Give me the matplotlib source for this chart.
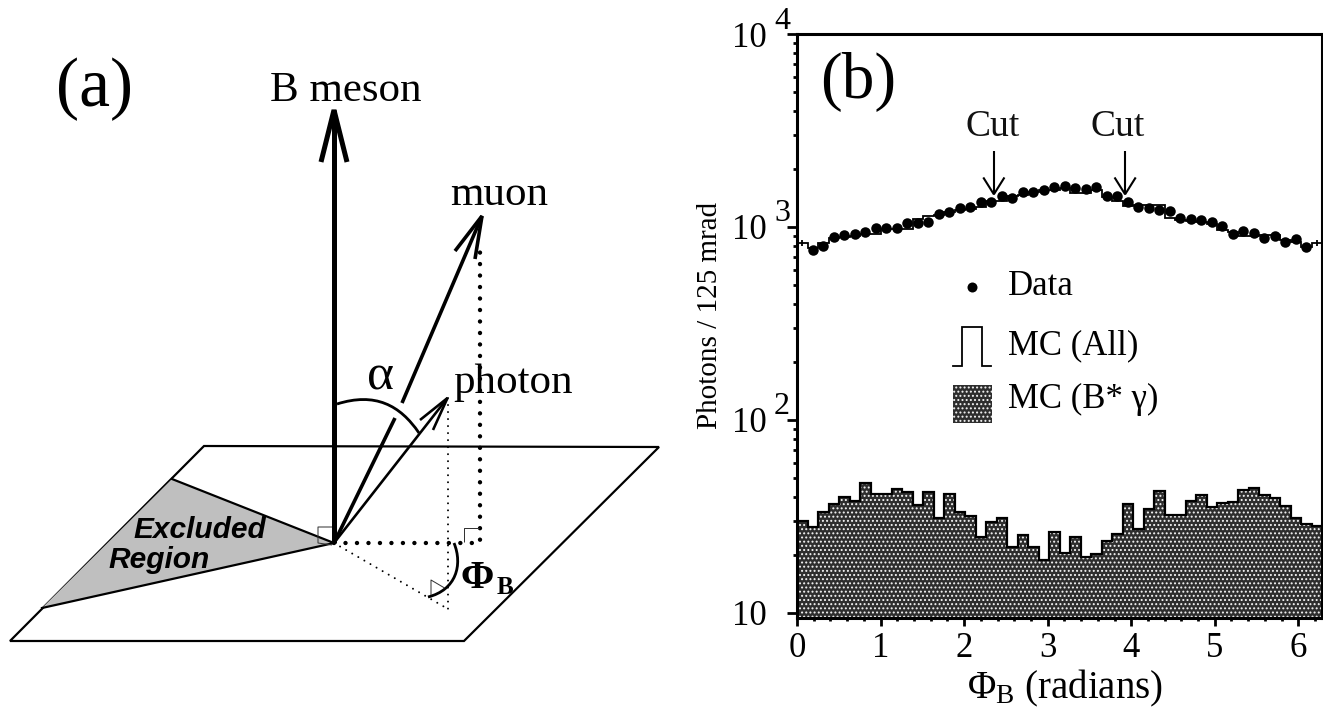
import numpy as np
import matplotlib
matplotlib.use("Agg")
import matplotlib.pyplot as plt
from matplotlib.path import Path
from matplotlib.patches import PathPatch, Polygon, Rectangle

plt.rcParams['font.family'] = ['Liberation Serif', 'DejaVu Sans']
plt.rcParams['mathtext.fontset'] = 'custom'
plt.rcParams['mathtext.rm'] = 'Liberation Serif'
plt.rcParams['mathtext.bf'] = 'Liberation Serif:bold'
plt.rcParams['hatch.linewidth'] = 0.9

# ---------- chart data (panel b) ----------
mc_signal = [30.0, 27.9, 33.2, 36.7, 39.9, 38.1, 46.8, 41.2, 41.4, 43.9,
             42.2, 36.4, 42.4, 30.9, 41.4, 33.2, 31.6, 24.6, 29.7, 31.1,
             22.0, 25.2, 21.9, 18.8, 26.1, 20.5, 24.7, 19.5, 20.2, 23.6,
             25.6, 36.7, 27.1, 34.6, 42.7, 32.1, 32.3, 37.8, 40.9, 35.3,
             36.9, 37.5, 43.4, 44.5, 40.7, 39.4, 35.9, 31.1, 29.0, 28.2]
mc_all = [827, 773, 827, 874, 885, 902, 917, 924, 977, 977,
          977, 1105, 1136, 1150, 1196, 1221, 1245, 1270, 1359, 1359,
          1443, 1471, 1525, 1550, 1562, 1600, 1501, 1501, 1550, 1431,
          1359, 1290, 1306, 1306, 1306, 1118, 1092, 1075, 1066, 1033,
          969, 943, 898, 898, 906, 906, 860, 836, 788, 827]
data_counts = [760, 794, 885, 909, 924, 939, 985, 989, 989, 1045,
               1049, 1066, 1173, 1192, 1250, 1270, 1354, 1354, 1443, 1420,
               1513, 1513, 1562, 1612, 1632, 1587, 1568, 1612, 1443, 1443,
               1354, 1270, 1255, 1230, 1211, 1118, 1100, 1083, 1066, 1016,
               924, 954, 928, 881, 895, 836, 867, 788]
cut_positions = [2.356, 3.927]
x_ticks = [0, 1, 2, 3, 4, 5, 6]
y_decades = [10, 100, 1000, 10000]
y_exponents = {100: '2', 1000: '3', 10000: '4'}
legend_labels = ['Data', 'MC (All)', 'MC (B* \u03b3)']

W, H = 1323, 715
fig = plt.figure(figsize=(W / 100, H / 100), dpi=100)
px = 0.72  # points per pixel

# ---------- panel (b) ----------
L, R, T, B = 797, 1322, 34, 617.5
ax = fig.add_axes([L / W, (H - B) / H, (R - L) / W, (B - T) / H])
ax.set_yscale('log')
xmax = 2 * np.pi
ymin = 9.45
ax.set_xlim(0, xmax)
ax.set_ylim(ymin, 1e4)
edges = np.linspace(0, xmax, len(mc_signal) + 1)
centers = 0.5 * (edges[:-1] + edges[1:])

hatch = '....'
face = '#2e2e2e'
ax.stairs(mc_signal, edges, baseline=ymin, fill=True, facecolor=face,
          edgecolor='#f4f4f4', hatch=hatch, lw=0, zorder=1)
ax.stairs(mc_signal, edges, baseline=None, color='black', lw=2.2 * px, zorder=2)
ax.stairs(mc_all, edges, baseline=None, color='black', lw=1.8 * px, zorder=3)
ax.errorbar([centers[0], centers[-1]], [mc_all[0], mc_all[-1]],
            yerr=[[mc_all[0] * 0.035, mc_all[-1] * 0.035]] * 2, fmt='none',
            ecolor='black', elinewidth=1.3, capsize=0, zorder=3)
ax.plot(centers[1:-1], data_counts, 'o', color='black', ms=10.5 * px, mew=0, zorder=4)

# cut arrows
cut_top, cut_tip, cut_barb, barb_dx = 2466, 1476, 1786, 0.12
for c in cut_positions:
    ax.plot([c, c], [cut_top, cut_tip], color='black', lw=1.5, solid_capstyle='butt', zorder=5)
    ax.plot([c - barb_dx, c, c + barb_dx], [cut_barb, cut_tip, cut_barb], color='black',
            lw=1.5, solid_joinstyle='bevel', zorder=5)

ax.set_xticks(x_ticks)
ax.set_xticks(np.arange(0, 6.3, 0.2), minor=True)
ax.set_yticks(y_decades)
ax.set_yticklabels(['10'] * len(y_decades))
ax.set_yticks([m * d for d in y_decades[:-1] for m in range(2, 10)], minor=True)
ax.tick_params(axis='y', which='minor', labelleft=False)
ax.tick_params(axis='y', which='major', length=10 * px, width=2.0, pad=22 * px - 1, labelsize=25)
ax.tick_params(axis='y', which='minor', length=3.7 * px, width=2.0)
ax.tick_params(axis='x', which='major', length=8 * px, width=2.0, pad=5, labelsize=25)
ax.tick_params(axis='x', which='minor', length=3 * px, width=2.0)
for s in ax.spines.values():
    s.set_linewidth(2.2)
for v, e in y_exponents.items():
    ax.annotate(e, xy=(0, v), xycoords=('axes fraction', 'data'),
                xytext=(-15 * px, 13 * px), textcoords='offset points',
                ha='center', va='center', fontsize=23)
ax.set_ylabel('Photons / 125 mrad', fontsize=21, va='center')
ax.yaxis.set_label_coords((710 - L) / (R - L), (B - 315) / (B - T))
ax.set_xlabel(r'$\mathrm{\Phi_{B}}$ (radians)', fontsize=28, va='center')
ax.xaxis.set_label_coords((1065 - L) / (R - L), -(688 - B) / (B - T))

# ---------- overlay in pixel coordinates: diagram, labels, key ----------
ov = fig.add_axes([0, 0, 1, 1], zorder=10)
ov.set_xlim(0, W)
ov.set_ylim(H, 0)
ov.axis('off')
ov.patch.set_alpha(0)

plane = [(10, 641), (464, 641), (659, 447), (204, 446)]
wedge = [(334, 543), (172, 479), (42, 608)]
apex = (334, 543)
muon_tip, photon_tip, bmeson_tip = (482, 216), (447.5, 398), (334, 110)

ov.add_patch(Polygon(plane, closed=True, fc='none', ec='black', lw=2.2 * px, joinstyle='miter'))
ov.add_patch(Polygon(wedge, closed=True, fc='#bfbfbf', ec='none'))
ov.plot([wedge[1][0], apex[0], wedge[2][0]], [wedge[1][1], apex[1], wedge[2][1]],
        color='black', lw=2.2 * px)


def line(points, width, **kw):
    xs, ys = zip(*points)
    kw.setdefault('solid_capstyle', 'butt')
    ov.plot(xs, ys, color=kw.pop('color', 'black'), lw=width * px, **kw)


def bezier(points, width):
    ov.add_patch(PathPatch(Path(points, [Path.MOVETO, Path.CURVE4, Path.CURVE4, Path.CURVE4]),
                           fc='none', ec='black', lw=width * px))


# main arrows
line([apex, bmeson_tip], 5)
line([(321, 162), bmeson_tip, (347, 162)], 5, solid_joinstyle='bevel')
line([apex, (395, 418)], 3.6)
line([(402, 403), muon_tip], 3.6)
line([(455, 251), muon_tip, (475, 259)], 3.6, solid_joinstyle='bevel')
line([apex, photon_tip], 2.6)
line([(420, 420), photon_tip, (433, 430)], 2.6, solid_joinstyle='bevel')

# angle arcs
bezier([(337, 404), (375, 392), (400, 405), (419, 433)], 2.8)
bezier([(454, 543), (463, 565), (456, 590), (428, 597)], 2.8)

# dotted construction lines
thick = dict(linestyle=(0, (0.01, 2.6)), dash_capstyle='round')
thin = dict(linestyle=(0, (0.01, 3.5)), dash_capstyle='round')
ov.plot([apex[0], 480, 480], [apex[1], 543, 245], color='black', lw=4.4 * px, **thick)
ov.plot([apex[0], 448], [apex[1], 609], color='black', lw=2 * px, **thin)
ov.plot([448, 448], [398, 609], color='black', lw=2 * px, **thin)

# right-angle marks
line([(332, 527), (318, 527), (318, 543), (332, 545)], 1.0, color='#333333')
line([(463.6, 542), (463.6, 527.7), (478.6, 527.7)], 1.0, color='#333333')
line([(431, 595), (431, 580), (444.6, 588)], 1.0, color='#333333')

# diagram text
ov.text(56, 106, '(a)', fontsize=50, ha='left', va='baseline')
ov.text(270, 101, 'B meson', fontsize=31, ha='left', va='baseline')
ov.text(450, 205, 'muon', fontsize=31, ha='left', va='baseline')
ov.text(453, 393, 'photon', fontsize=31, ha='left', va='baseline')
ov.text(367, 389, '\u03b1', fontsize=37, ha='left', va='baseline')
ov.text(461, 588, '\u03a6', fontsize=29, fontweight='bold', ha='left', va='baseline')
ov.text(497, 594, 'B', fontsize=18, fontweight='bold', ha='left', va='baseline')
for label, x0, y0 in [('Excluded', 133, 538), ('Region', 108, 568)]:
    ov.text(x0, y0, label, fontsize=21.5, family='Liberation Sans', fontweight='bold',
            style='italic', ha='left', va='baseline')

# panel (b) text
ov.text(820, 98, '(b)', fontsize=47, ha='left', va='baseline')
for x0 in [993, 1118]:
    ov.text(x0, 136, 'Cut', fontsize=27, ha='center', va='baseline', color='#111111')

# key
ov.plot([972], [287], 'o', color='black', ms=10 * px, mew=0)
ov.plot([953, 962, 962, 982, 982, 991], [366, 366, 327, 327, 366, 366], color='black', lw=1.8 * px,
        solid_joinstyle='miter')
ov.add_patch(Rectangle((953, 385), 39, 38, fc=face, ec='#f4f4f4', hatch=hatch, lw=0))
for label, y0 in zip(legend_labels, [295, 354, 408]):
    ov.text(1008, y0, label, fontsize=25, ha='left', va='baseline')

fig.savefig('out.png', dpi=100, facecolor='white')
